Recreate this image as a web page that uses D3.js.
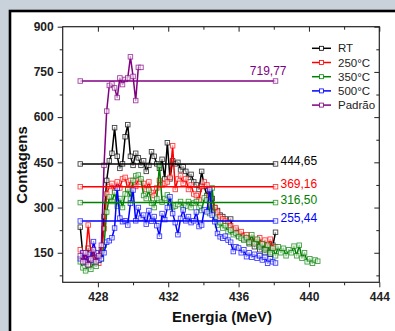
<!DOCTYPE html>
<html>
<head>
<meta charset="utf-8">
<script src="https://cdn.jsdelivr.net/npm/d3@7"></script>
<style>
  html, body { margin: 0; padding: 0; background: #c9d2db; }
  svg { display: block; font-family: Arial, "Liberation Sans", sans-serif; }
</style>
</head>
<body>
<svg id="chart" width="395" height="331"></svg>
<script>
// energy grid (MeV)
const energia = [427.00,427.15,427.30,427.45,427.60,427.75,427.90,428.05,428.20,428.35,428.50,428.65,428.80,428.95,429.10,429.25,429.40,429.55,429.70,429.85,430.00,430.15,430.30,430.45,430.60,430.75,430.90,431.05,431.20,431.35,431.50,431.65,431.80,431.95,432.10,432.25,432.40,432.55,432.70,432.85,433.00,433.15,433.30,433.45,433.60,433.75,433.90,434.05,434.20,434.35,434.50,434.65,434.80,434.95,435.10,435.25,435.40,435.55,435.70,435.85,436.00,436.15,436.30,436.45,436.60,436.75,436.90,437.05,437.20,437.35,437.50,437.65,437.80,437.95,438.10,438.25,438.40,438.55,438.70,438.85,439.00,439.15,439.30,439.45,439.60,439.75,439.90,440.05,440.20,440.35,440.50];

const rt = [235,140,120,165,125,150,115,140,160,270,390,455,480,565,470,430,445,535,575,470,440,480,465,440,455,420,440,485,470,445,430,460,395,515,395,455,445,450,425,435,420,400,410,385,375,360,420,370,340,355,330,300,290,275,270,262,250,262,218,225,205,210,195,200,180,190,170,185,160,175,150,165,145,175,218];

const c250 = [160,130,140,242,150,120,135,115,150,230,345,370,380,355,385,365,395,400,360,390,380,370,395,385,380,360,385,350,340,365,390,375,380,385,400,505,360,395,405,380,395,360,375,345,340,325,370,385,375,335,305,300,285,270,262,255,250,240,228,232,215,220,205,210,195,200,185,192,200,178,192,170,195,165,170];

const c350 = [120,100,90,110,95,120,105,125,130,175,285,335,320,350,305,330,300,345,360,330,390,405,408,395,340,330,358,315,300,330,440,318,330,342,318,300,305,310,320,300,305,320,300,315,320,300,290,332,325,280,365,265,242,250,232,240,220,225,210,215,203,198,192,200,185,210,180,195,170,180,160,175,150,165,140,170,150,165,140,160,150,172,140,175,132,150,120,130,115,126,122];

const c500 = [130,150,120,145,125,187,150,125,130,150,185,190,200,232,364,265,253,256,242,314,358,256,300,265,275,245,290,255,270,240,205,280,260,300,336,280,250,210,264,292,256,270,250,256,285,237,242,292,286,360,275,253,214,203,198,205,192,185,154,170,166,150,160,137,150,135,145,132,140,126,135,115,130,120,116];

const padrao = [140,120,150,110,130,160,120,140,175,440,620,705,710,697,665,730,708,725,730,800,735,655,765,765];

const seriesNames = ["RT", "250°C", "350°C", "500°C", "Padrão"];
const seriesColors = ["#000000", "#ff0000", "#008000", "#0000ff", "#800080"];
const seriesValues = [rt, c250, c350, c500, padrao];

// mean levels drawn as horizontal lines
const medias = [444.65, 369.16, 316.50, 255.44, 719.77];
const mediaInicio = 427.0;
const mediaFim = 438.1;

const xTicks = [428, 432, 436, 440, 444];
const xMinor = [430, 434, 438, 442];
const yTicks = [150, 300, 450, 600, 750, 900];
const yMinor = [75, 225, 375, 525, 675, 825];

const svg = d3.select("#chart");

// outer frame
svg.append("rect").attr("x", 0).attr("y", 0).attr("width", 395).attr("height", 331).attr("fill", "#c9d2db");
svg.append("rect").attr("x", 10).attr("y", 11).attr("width", 400).attr("height", 340)
   .attr("fill", "#ffffff").attr("stroke", "#000").attr("stroke-width", 2.6);

const pLeft = 62.7, pRight = 379.3, pTop = 26.7, pBottom = 282.3;

const x = d3.scaleLinear().domain([426, 444]).range([pLeft, pRight]);
const y = d3.scaleLinear().domain([52, 900]).range([pBottom, pTop]);

function styleAxis(g, bold) {
  g.select(".domain").remove();
  g.selectAll(".tick line").attr("stroke", "#222").attr("stroke-width", 1);
  g.selectAll(".tick text").attr("font-size", 12).attr("font-weight", bold ? "bold" : "normal")
   .attr("fill", "#222").attr("font-family", "Arial, 'Liberation Sans', sans-serif");
}

// bottom axis
svg.append("g").attr("transform", `translate(0,${pBottom})`)
   .call(d3.axisBottom(x).tickValues(xTicks).tickSize(5).tickPadding(5).tickFormat(d3.format("d")))
   .call(g => styleAxis(g, true));
svg.append("g").attr("transform", `translate(0,${pBottom})`)
   .call(d3.axisBottom(x).tickValues(xMinor).tickSize(3).tickFormat(""))
   .call(g => styleAxis(g, false));
// left axis
svg.append("g").attr("transform", `translate(${pLeft},0)`)
   .call(d3.axisLeft(y).tickValues(yTicks).tickSize(5).tickPadding(4).tickFormat(d3.format("d")))
   .call(g => styleAxis(g, true));
svg.append("g").attr("transform", `translate(${pLeft},0)`)
   .call(d3.axisLeft(y).tickValues(yMinor).tickSize(3).tickFormat(""))
   .call(g => styleAxis(g, false));
// top axis (ticks inward)
svg.append("g").attr("transform", `translate(0,${pTop})`)
   .call(d3.axisBottom(x).tickValues(xTicks).tickSize(5).tickFormat(""))
   .call(g => styleAxis(g, false));
svg.append("g").attr("transform", `translate(0,${pTop})`)
   .call(d3.axisBottom(x).tickValues(xMinor).tickSize(3).tickFormat(""))
   .call(g => styleAxis(g, false));
// right axis (ticks inward)
svg.append("g").attr("transform", `translate(${pRight},0)`)
   .call(d3.axisLeft(y).tickValues(yTicks).tickSize(5).tickFormat(""))
   .call(g => styleAxis(g, false));
svg.append("g").attr("transform", `translate(${pRight},0)`)
   .call(d3.axisLeft(y).tickValues(yMinor).tickSize(3).tickFormat(""))
   .call(g => styleAxis(g, false));

// plot box
svg.append("rect").attr("x", pLeft).attr("y", pTop).attr("width", pRight - pLeft).attr("height", pBottom - pTop)
   .attr("fill", "none").attr("stroke", "#222").attr("stroke-width", 1.2);

// axis titles
svg.append("text").attr("x", 222).attr("y", 322).attr("text-anchor", "middle")
   .attr("font-size", 15).attr("font-weight", "bold").attr("fill", "#111").text("Energia (MeV)");
svg.append("text").attr("transform", "translate(27,165) rotate(-90)").attr("text-anchor", "middle")
   .attr("font-size", 15).attr("font-weight", "bold").attr("fill", "#111").text("Contagens");

const line = d3.line().x(d => x(d[0])).y(d => y(d[1]));
const ms = 4.5;

function drawSeries(pts, color) {
  const g = svg.append("g");
  g.append("path").datum(pts).attr("d", line).attr("fill", "none")
   .attr("stroke", color).attr("stroke-width", 1.5).attr("stroke-linejoin", "round");
  g.selectAll("rect").data(pts).enter().append("rect")
   .attr("x", d => x(d[0]) - ms / 2).attr("y", d => y(d[1]) - ms / 2)
   .attr("width", ms).attr("height", ms)
   .attr("fill", "#fff").attr("fill-opacity", 0.6)
   .attr("stroke", color).attr("stroke-width", 0.9).attr("stroke-opacity", 0.75);
}

seriesValues.forEach((vals, i) => {
  const pts = vals.map((v, k) => [energia[k], v]);
  drawSeries(pts, seriesColors[i]);
});

// mean lines and labels
const fmt = v => d3.format(".2f")(v).replace(".", ",");
medias.forEach((m, i) => {
  drawSeries([[mediaInicio, m], [mediaFim, m]], seriesColors[i]);
  const t = svg.append("text").attr("font-size", 12).attr("fill", seriesColors[i]).text(fmt(m));
  if (seriesNames[i] === "Padrão") {
    t.attr("x", x(mediaFim) + 11).attr("y", y(m) - 6).attr("text-anchor", "end");
  } else {
    t.attr("x", x(mediaFim) + 5).attr("y", y(m) + 1);
  }
});

// legend
const leg = svg.append("g");
seriesNames.forEach((name, i) => {
  const ly = 48.3 + i * 14.2;
  leg.append("line").attr("x1", 312).attr("x2", 331).attr("y1", ly).attr("y2", ly)
     .attr("stroke", seriesColors[i]).attr("stroke-width", 1.5);
  leg.append("rect").attr("x", 321.5 - 2).attr("y", ly - 2).attr("width", 4).attr("height", 4)
     .attr("fill", "#fff").attr("stroke", seriesColors[i]).attr("stroke-width", 0.8);
  leg.append("text").attr("x", 338).attr("y", ly + 4).attr("font-size", 11.5)
     .attr("fill", "#222").text(name);
});
</script>
</body>
</html>
